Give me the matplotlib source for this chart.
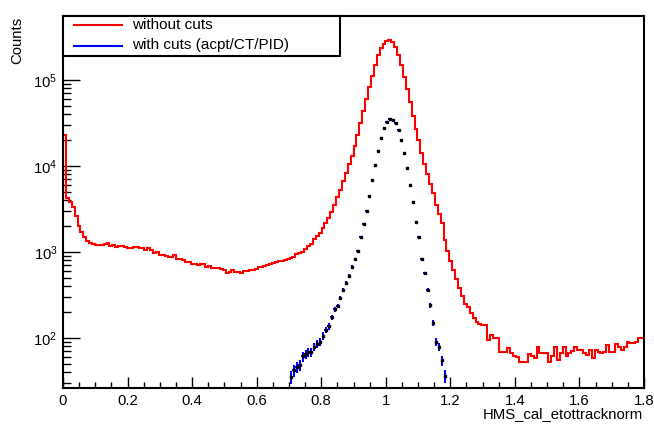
import numpy as np
import matplotlib
matplotlib.use('Agg')
import matplotlib.pyplot as plt
from matplotlib.ticker import LogLocator, NullFormatter, FixedLocator, FixedFormatter, MultipleLocator
from matplotlib.patches import Rectangle
from matplotlib.lines import Line2D

plt.rcParams['font.family'] = ['Liberation Sans', 'DejaVu Sans']
plt.rcParams['mathtext.default'] = 'regular'

# ---------------- data ----------------
x_min, x_max, n_bins = 0.0, 1.8, 200

without_cuts = [
    23000, 4200, 3800, 3300, 2600, 2000, 1700, 1500, 1350, 1270,
    1230, 1215, 1220, 1200, 1250, 1270, 1180, 1210, 1150, 1170,
    1170, 1135, 1125, 1125, 1140, 1130, 1110, 1125, 1060, 1100,
    1060, 980, 990, 920, 930, 910, 880, 885, 920, 822,
    822, 800, 771, 771, 720, 730, 707, 720, 718, 675,
    687, 660, 646, 646, 628, 620, 575, 590, 617, 585,
    585, 575, 607, 607, 617, 625, 640, 664, 664, 680,
    705, 720, 738, 760, 793, 790, 800, 820, 850, 881,
    946, 980, 1006, 1080, 1170, 1250, 1416, 1535, 1683, 1897,
    2178, 2512, 2942, 3556, 4345, 5321, 6607, 8395, 10620, 13030,
    17270, 22860, 31270, 43150, 59570, 82220, 111500, 147600, 193100, 234800,
    265000, 287700, 291700, 275400, 241500, 197200, 150300, 109400, 78700, 54850,
    38280, 26600, 19860, 14160, 10610, 8170, 6250, 4806, 3539, 2782,
    2181, 1367, 1032, 789, 611, 479, 382, 309, 250, 231,
    195, 173, 153, 144, 142, 142, 95, 108, 99, 99,
    69, 69, 69, 76, 66, 62, 60, 53, 53, 53,
    65, 62, 58, 79, 66, 66, 66, 53, 61, 79,
    55, 66, 79, 61, 66, 70, 79, 72, 72, 66,
    63, 72, 58, 72, 68, 66, 68, 83, 69, 69,
    84, 79, 72, 79, 91, 88, 88, 91, 99, 99,
]

with_cuts_first_bin = 78
with_cuts = [
    35, 42, 46, 48, 61, 65, 68, 69, 79, 85,
    91, 106, 124, 136, 174, 216, 236, 290, 360, 441,
    526, 676, 833, 1030, 1500, 2090, 3030, 4480, 6850, 10200,
    15100, 20950, 27300, 32600, 35000, 34300, 31300, 26200, 20050, 14300,
    9560, 6010, 3815, 2240, 1490, 818, 565, 360, 240, 150,
    91, 79, 55, 36,
]

x_ticks = [0.0, 0.2, 0.4, 0.6, 0.8, 1.0, 1.2, 1.4, 1.6, 1.8]
x_tick_labels = ['0', '0.2', '0.4', '0.6', '0.8', '1', '1.2', '1.4', '1.6', '1.8']
y_range = (26.2, 5.55e5)

legend_labels = ['without cuts', 'with cuts (acpt/CT/PID)']
x_title = 'HMS_cal_etottracknorm'
y_title = 'Counts'

# ---------------- figure ----------------
W, H = 654, 426
fig = plt.figure(figsize=(W / 100, H / 100), dpi=100)

def fx(px):
    return px / W

def fy(py):
    return 1 - py / H

ax_l, ax_r, ax_t, ax_b = 63, 644, 16, 388
ax = fig.add_axes([fx(ax_l), fy(ax_b), (ax_r - ax_l) / W, (ax_b - ax_t) / H])

edges = np.linspace(x_min, x_max, n_bins + 1)
bw = edges[1] - edges[0]
ax.stairs(np.array(without_cuts, float), edges, color='#ff0000', lw=1.5,
          baseline=None, zorder=2)

wc = np.array(with_cuts, float)
centers = edges[with_cuts_first_bin:with_cuts_first_bin + len(wc)] + bw / 2
ax.errorbar(centers, wc, xerr=bw / 2, yerr=np.sqrt(wc), fmt='s', ms=1.8,
            mfc='black', mec='black', ecolor='#0000ff', elinewidth=1.5,
            capsize=0, zorder=3)

ax.set_yscale('log')
ax.set_xlim(x_min, x_max)
ax.set_ylim(*y_range)

ax.xaxis.set_major_locator(FixedLocator(x_ticks))
ax.xaxis.set_major_formatter(FixedFormatter(x_tick_labels))
ax.xaxis.set_minor_locator(MultipleLocator(0.05))
ax.yaxis.set_major_locator(LogLocator(base=10, numticks=12))
ax.yaxis.set_minor_locator(LogLocator(base=10, subs=np.arange(2, 10), numticks=12))
ax.yaxis.set_minor_formatter(NullFormatter())

ax.tick_params(axis='both', which='both', direction='in', top=False, right=False,
               labelsize=10.7, width=1.0, colors='black')
ax.tick_params(axis='x', which='major', length=8, pad=4)
ax.tick_params(axis='x', which='minor', length=4)
ax.tick_params(axis='y', which='major', length=12.2, pad=4)
ax.tick_params(axis='y', which='minor', length=6.1)
for s in ax.spines.values():
    s.set_linewidth(1.5)

# titles
fig.text(fx(643), fy(414), x_title, ha='right', va='center', fontsize=10.7)
fig.text(fx(17.5), fy(17), y_title, ha='center', va='top', rotation=90, fontsize=10.7)

# legend box (ROOT TLegend style)
fig.add_artist(Rectangle((fx(63), fy(56)), (340 - 63) / W, 40 / H,
                         transform=fig.transFigure, facecolor='white',
                         edgecolor='black', lw=1.5, zorder=10))
for yy, col, lab in [(25, '#ff0000', legend_labels[0]), (45.5, '#0000ff', legend_labels[1])]:
    fig.add_artist(Line2D([fx(74), fx(122)], [fy(yy), fy(yy)], transform=fig.transFigure,
                          color=col, lw=1.5, zorder=11))
    fig.text(fx(132), fy(yy), lab, ha='left', va='center', fontsize=11, zorder=12)

fig.savefig('out.png', dpi=100)
